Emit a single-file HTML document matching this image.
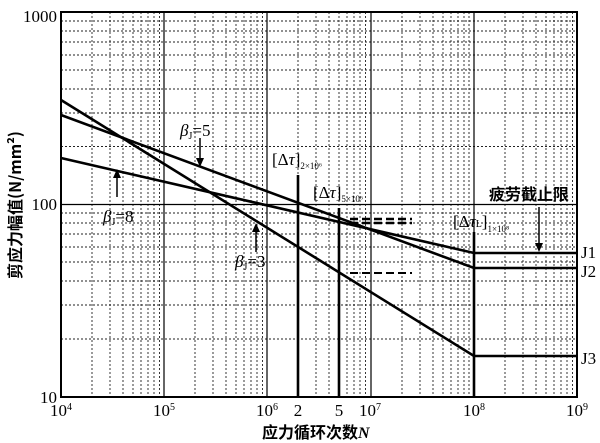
<!DOCTYPE html>
<html><head><meta charset="utf-8"><style>body{margin:0;background:#fff}svg{display:block}</style></head><body>
<svg width="600" height="443" xmlns="http://www.w3.org/2000/svg" font-family="'Liberation Serif','Noto Serif CJK SC',serif">
<path fill="none" stroke="#222" stroke-width="0.9" stroke-dasharray="2,2" d="
M92 12V397M110 12V397M123 12V397M133 12V397M141 12V397M148 12V397M154 12V397M159.5 12V397
M195 12V397M213 12V397M226 12V397M236 12V397M244 12V397M251 12V397M257 12V397M262.5 12V397
M298 12V397M316 12V397M329 12V397M339 12V397M347 12V397M354 12V397M360 12V397M365.5 12V397
M402 12V397M420 12V397M433 12V397M443 12V397M451 12V397M458 12V397M464 12V397M469 12V397
M505 12V397M523 12V397M536 12V397M546 12V397M554 12V397M561 12V397M567 12V397M572.5 12V397
M61 339H577M61 305H577M61 281H577M61 262H577M61 247H577M61 234H577M61 223H577M61 213H577
M61 146.5H577M61 113H577M61 89H577M61 70H577M61 55H577M61 42H577M61 31H577M61 21H577"/>
<path fill="none" stroke="#000" stroke-width="1.2" d="M164 12V397M267 12V397M371 12V397M474 12V397M61 204.5H577"/>
<rect x="61" y="12" width="516" height="385" fill="none" stroke="#000" stroke-width="2"/>
<g stroke="#000" stroke-width="2.6" fill="none">
<polyline points="61,158 474,253 577,253"/>
<polyline points="61,115 474,268 577,268"/>
<polyline points="61,100 474,356 577,356"/>
<line x1="298" y1="397" x2="298" y2="175"/>
<line x1="339" y1="397" x2="339" y2="208"/>
<line x1="474" y1="397" x2="474" y2="232"/>
<line x1="350" y1="219" x2="412" y2="219" stroke-dasharray="8,4"/>
<line x1="350" y1="223" x2="412" y2="223" stroke-dasharray="8,4"/>
<line x1="350" y1="273" x2="412" y2="273" stroke-dasharray="8,4" stroke-width="2"/>
</g>
<g stroke="#000" stroke-width="1.5">
<line x1="200" y1="138" x2="200" y2="160"/><line x1="117" y1="197" x2="117" y2="176"/>
<line x1="256" y1="252" x2="256" y2="230"/><line x1="539" y1="207" x2="539" y2="245"/>
</g>
<g fill="#000">
<polygon points="196,158 204,158 200,167"/><polygon points="113,178 121,178 117,169"/>
<polygon points="252,232 260,232 256,223"/><polygon points="535,243 543,243 539,252"/>
</g>
<g font-size="17">
<text x="180" y="136"><tspan font-style="italic">β</tspan><tspan font-size="10" dy="3">J</tspan><tspan dy="-3">=5</tspan></text>
<text x="103" y="222"><tspan font-style="italic">β</tspan><tspan font-size="10" dy="3">J</tspan><tspan dy="-3">=8</tspan></text>
<text x="235" y="267"><tspan font-style="italic">β</tspan><tspan font-size="10" dy="3">J</tspan><tspan dy="-3">=3</tspan></text>
<text x="272" y="165">[Δ<tspan font-style="italic">τ</tspan>]<tspan font-size="9" dy="4">2×10⁶</tspan></text>
<text x="313" y="198">[Δ<tspan font-style="italic">τ</tspan>]<tspan font-size="9" dy="4">5×10⁶</tspan></text>
<text x="453" y="227">[Δ<tspan font-style="italic">τ</tspan><tspan font-size="10">L</tspan>]<tspan font-size="9" dy="5">1×10⁸</tspan></text>
<text x="489" y="200" font-weight="bold" font-family="'Noto Sans CJK SC',sans-serif" font-size="16">疲劳截止限</text>
<text x="581" y="258">J1</text><text x="581" y="277">J2</text><text x="581" y="364">J3</text>
<text x="57" y="22" text-anchor="end">1000</text>
<text x="57" y="210" text-anchor="end">100</text>
<text x="57" y="403" text-anchor="end">10</text>
<text x="61" y="416" text-anchor="middle">10<tspan font-size="10" dy="-6">4</tspan></text>
<text x="164" y="416" text-anchor="middle">10<tspan font-size="10" dy="-6">5</tspan></text>
<text x="267" y="416" text-anchor="middle">10<tspan font-size="10" dy="-6">6</tspan></text>
<text x="298" y="416" text-anchor="middle">2</text>
<text x="339" y="416" text-anchor="middle">5</text>
<text x="370" y="416" text-anchor="middle">10<tspan font-size="10" dy="-6">7</tspan></text>
<text x="474" y="416" text-anchor="middle">10<tspan font-size="10" dy="-6">8</tspan></text>
<text x="577" y="416" text-anchor="middle">10<tspan font-size="10" dy="-6">9</tspan></text>
<text x="262" y="438" font-weight="bold" font-family="'Noto Sans CJK SC',sans-serif" font-size="16">应力循环次数<tspan font-style="italic" font-family="'Liberation Serif',serif">N</tspan></text>
<text transform="translate(21,205) rotate(-90)" text-anchor="middle" font-weight="bold" font-family="'Noto Sans CJK SC',sans-serif" font-size="16">剪应力幅值(N/mm²)</text>
</g>
</svg>
</body></html>
